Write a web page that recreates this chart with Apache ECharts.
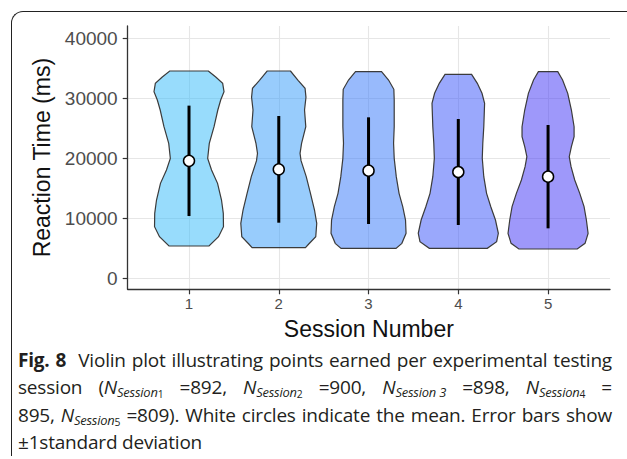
<!DOCTYPE html>
<html>
<head>
<meta charset="utf-8">
<script src="https://cdn.jsdelivr.net/npm/echarts@6/dist/echarts.min.js"></script>
<style>
  html, body { margin: 0; padding: 0; background: #fff; }
  #wrap { position: relative; width: 627px; height: 459px; overflow: hidden; }
  #chart { position: absolute; left: 0; top: 0; width: 627px; height: 459px; }
  #frame { position: absolute; left: 11px; top: 11px; width: 700px; height: 444px;
           border-left: 1.5px solid #222; border-top: 1.5px solid #222; border-top-left-radius: 12px; }
  .cap { position: absolute; left: 18px; width: 594px; font-family: "Open Sans", sans-serif;
         font-size: 19px; color: #231f20; white-space: nowrap; line-height: 20px; letter-spacing: -0.2px; }
  .just { text-align: justify; text-align-last: justify; }
  .n { font-style: italic; }
  .ib { display: inline-block; }
  sub { font-size: 0.68em; vertical-align: -0.2em; line-height: 0; }
  sub sub { font-style: normal; font-size: 0.8em; vertical-align: -0.12em; }
</style>
</head>
<body>
<div id="wrap">
  <div id="frame"></div>
  <div id="chart"></div>
  <div class="cap just" style="top:350px;"><b>Fig. 8</b>&nbsp; Violin plot illustrating points earned per experimental testing</div>
  <div class="cap just" style="top:377px;">session (<span class="n">N<sub>Session<sub>1</sub></sub></span> =892, <span class="n">N<sub>Session<sub>2</sub></sub></span> =900, <span class="n">N<sub><span class="ib">Session 3</span></sub></span> =898, <span class="n">N<sub>Session<sub>4</sub></sub></span> =</div>
  <div class="cap just" style="top:405px;">895, <span class="n">N<sub>Session<sub>5</sub></sub></span> =809). White circles indicate the mean. Error bars show</div>
  <div class="cap" style="top:432px;">±1standard deviation</div>
</div>
<script>
// ---- data ----
const categories = [1, 2, 3, 4, 5];
const xTickLabels = ['1', '2', '3', '4', '5'];
const yTicks = [0, 10000, 20000, 30000, 40000];
const yTickLabels = ['0', '10000', '20000', '30000', '40000'];
const means = [19580, 18160, 17940, 17720, 16940];
const sds = [9200, 8890, 8890, 8830, 8610];

// violin profiles: reaction-time values and density half-widths (category units)
const violinValues1 = [34550, 33500, 32495, 31105, 29717, 28050, 25272, 22495, 19995, 18050, 15828, 13050, 10828, 8605, 6938, 5383];
const violinWidths1 = [0.215, 0.301, 0.375, 0.390, 0.353, 0.321, 0.279, 0.226, 0.208, 0.251, 0.318, 0.362, 0.382, 0.384, 0.329, 0.223];
const violinValues2 = [34550, 33000, 31662, 30162, 28050, 25272, 22495, 20828, 19605, 16938, 14162, 11383, 9162, 6938, 5717, 5105];
const violinWidths2 = [0.130, 0.215, 0.293, 0.303, 0.287, 0.301, 0.254, 0.237, 0.248, 0.306, 0.353, 0.398, 0.423, 0.412, 0.334, 0.297];
const violinValues3 = [34438, 33050, 31500, 29717, 25272, 22495, 19995, 16938, 14162, 11938, 9717, 7495, 5828, 4995];
const violinWidths3 = [0.145, 0.223, 0.282, 0.286, 0.286, 0.279, 0.286, 0.309, 0.340, 0.381, 0.412, 0.418, 0.371, 0.306];
const violinValues4 = [33995, 32495, 30834, 29162, 25272, 22495, 19995, 16938, 14162, 11938, 9717, 7495, 6105, 4995];
const violinWidths4 = [0.148, 0.212, 0.264, 0.293, 0.284, 0.273, 0.267, 0.284, 0.315, 0.362, 0.414, 0.446, 0.427, 0.323];
const violinValues5 = [34438, 33050, 30828, 28050, 25272, 23606, 21939, 20272, 18606, 16384, 14162, 11938, 9717, 7495, 5828, 4884];
const violinWidths5 = [0.108, 0.162, 0.219, 0.260, 0.290, 0.290, 0.260, 0.236, 0.256, 0.297, 0.353, 0.401, 0.427, 0.446, 0.412, 0.325];

const violinValues = [violinValues1, violinValues2, violinValues3, violinValues4, violinValues5];
const violinWidths = [violinWidths1, violinWidths2, violinWidths3, violinWidths4, violinWidths5];
const fillColors = ['rgba(49,185,249,0.5)', 'rgba(49,153,249,0.5)', 'rgba(49,117,249,0.5)', 'rgba(53,81,249,0.5)', 'rgba(61,49,245,0.5)'];

const chart = echarts.init(document.getElementById('chart'), null, { renderer: 'svg' });

function violinItem(params, api) {
  const i = params.dataIndex;
  const x = api.value(0);
  const vals = violinValues[i], ws = violinWidths[i];
  const right = [], left = [];
  for (let k = 0; k < vals.length; k++) {
    right.push(api.coord([x + ws[k], vals[k]]));
    left.push(api.coord([x - ws[k], vals[k]]));
  }
  const pts = right.concat(left.reverse());
  return {
    type: 'polygon',
    shape: { points: pts, smooth: 0 },
    style: { fill: fillColors[i], stroke: '#3b3b3b', lineWidth: 1.2 }
  };
}

function errItem(params, api) {
  const p1 = api.coord([api.value(0), api.value(1) - api.value(2)]);
  const p2 = api.coord([api.value(0), api.value(1) + api.value(2)]);
  return {
    type: 'line',
    shape: { x1: p1[0], y1: p1[1], x2: p2[0], y2: p2[1] },
    style: { stroke: '#000', lineWidth: 3 }
  };
}

const font = '"Liberation Sans", Arial, sans-serif';

chart.setOption({
  animation: false,
  grid: { left: 127.7, top: 26, right: 17, bottom: 169.7, containLabel: false },
  xAxis: {
    type: 'value', min: 0.317, max: 5.69,
    name: 'Session Number', nameLocation: 'middle', nameGap: 28,
    nameTextStyle: { fontFamily: font, fontSize: 23, color: '#111' },
    axisLine: { show: true, onZero: false, lineStyle: { color: '#333', width: 1.3 } },
    axisTick: { show: true, customValues: categories, length: 5, lineStyle: { color: '#333', width: 1.2 } },
    axisLabel: { customValues: categories, formatter: v => xTickLabels[categories.indexOf(v)] || '',
                 fontFamily: font, fontSize: 15, color: '#4d4d4d', margin: 7 },
    splitLine: { show: true, lineStyle: { color: '#e6e6e6', width: 1.1 } }
  },
  yAxis: {
    type: 'value', min: -1830, max: 42050,
    name: 'Reaction Time (ms)', nameLocation: 'middle', nameGap: 70,
    nameTextStyle: { fontFamily: font, fontSize: 23, color: '#111' },
    axisLine: { show: true, onZero: false, lineStyle: { color: '#333', width: 1.3 } },
    axisTick: { show: true, customValues: yTicks, length: 5, lineStyle: { color: '#333', width: 1.2 } },
    axisLabel: { customValues: yTicks, formatter: v => yTickLabels[yTicks.indexOf(v)] || '',
                 fontFamily: font, fontSize: 19, color: '#4d4d4d', margin: 10 },
    splitLine: { show: true, lineStyle: { color: '#e6e6e6', width: 1.1 } }
  },
  series: [
    { type: 'custom', renderItem: violinItem, data: categories.map(c => [c]), z: 2 },
    { type: 'custom', renderItem: errItem, data: categories.map((c, i) => [c, means[i], sds[i]]), z: 3 },
    { type: 'scatter', data: categories.map((c, i) => [c, means[i]]), symbol: 'circle', symbolSize: 11,
      itemStyle: { color: '#fff', borderColor: '#000', borderWidth: 1.5, opacity: 1 }, z: 4 }
  ]
});
</script>
</body>
</html>
